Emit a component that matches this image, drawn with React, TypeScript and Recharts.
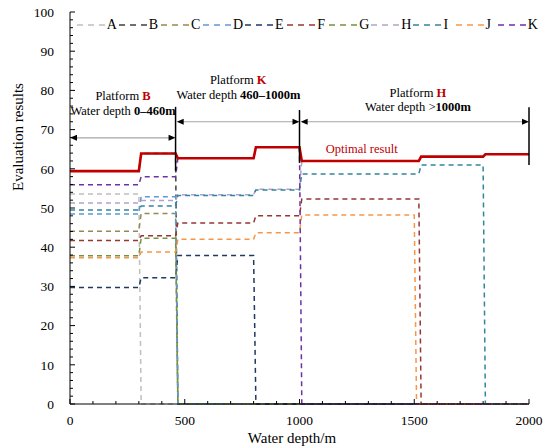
import React from "react";
import { Label, Legend, Line, LineChart, ReferenceDot, ReferenceLine, XAxis, YAxis } from "recharts";

const FONT = "'Liberation Serif', 'Times New Roman', serif";

// water depth breakpoints (m); each step change ramps over 10 m
const depths = [0, 300, 310, 460, 470, 800, 810, 1000, 1010, 1500, 1510, 1520, 1530, 1800, 1810, 2000];

const optimal = [59.4, 59.4, 63.9, 63.9, 62.7, 62.7, 65.5, 65.5, 62.0, 62.0, 62.0, 62.0, 63.1, 63.1, 63.7, 63.7];
const valuesA = [53.6, 53.6, 0, 0, 0, 0, 0, 0, 0, 0, 0, 0, 0, 0, 0, 0];
const valuesB = [59.4, 59.4, 63.9, 63.9, 0, 0, 0, 0, 0, 0, 0, 0, 0, 0, 0, 0];
const valuesC = [44.1, 44.1, 48.6, 48.6, 0, 0, 0, 0, 0, 0, 0, 0, 0, 0, 0, 0];
const valuesD = [48.5, 48.5, 52.9, 52.9, 0, 0, 0, 0, 0, 0, 0, 0, 0, 0, 0, 0];
const valuesE = [29.7, 29.7, 32.2, 32.2, 37.9, 37.9, 0, 0, 0, 0, 0, 0, 0, 0, 0, 0];
const valuesF = [41.7, 41.7, 42.9, 42.9, 46.2, 46.2, 48.0, 48.0, 52.3, 52.3, 52.3, 52.3, 0, 0, 0, 0];
const valuesG = [37.8, 37.8, 42.3, 42.3, 0, 0, 0, 0, 0, 0, 0, 0, 0, 0, 0, 0];
const valuesH = [51.3, 51.3, 51.9, 51.9, 53.4, 53.4, 54.8, 54.8, 62.0, 62.0, 62.0, 62.0, 63.1, 63.1, 63.7, 63.7];
const valuesI = [49.5, 49.5, 50.5, 50.5, 53.2, 53.2, 54.6, 54.6, 58.7, 58.7, 58.7, 58.7, 61.0, 61.0, 0, 0];
const valuesJ = [37.3, 37.3, 38.8, 38.8, 42.0, 42.0, 43.7, 43.7, 48.2, 48.2, 0, 0, 0, 0, 0, 0];
const valuesK = [55.9, 55.9, 58.0, 58.0, 62.7, 62.7, 65.5, 65.5, 0, 0, 0, 0, 0, 0, 0, 0];

const platformNames = ["A", "B", "C", "D", "E", "F", "G", "H", "I", "J", "K"];
const platformValues = [valuesA, valuesB, valuesC, valuesD, valuesE, valuesF, valuesG, valuesH, valuesI, valuesJ, valuesK];
const platformColors = [
  "#bfbfbf", "#404040", "#948a54", "#5b9bd5", "#1f3864", "#953735",
  "#77933c", "#b3a2c7", "#31859c", "#f79646", "#7030a0",
];

const xLabels = [0, 500, 1000, 1500, 2000];
const yLabels = [0, 10, 20, 30, 40, 50, 60, 70, 80, 90, 100];
const xTicks = Array.from({ length: 21 }, (_, i) => i * 100);
const yTicks = Array.from({ length: 51 }, (_, i) => i * 2);

const rows = depths.map((depth, i) => {
  const row: Record<string, number> = { depth, optimal: optimal[i] };
  platformNames.forEach((name, k) => {
    row[name] = platformValues[k][i];
  });
  return row;
});

const YTick = (props: any) => {
  const { x, y, payload } = props;
  const axisX = x + 16;
  const major = yLabels.includes(payload.value);
  return (
    <g>
      <line x1={axisX} x2={axisX + (major ? 5 : 3)} y1={y} y2={y} stroke="#000" />
      {major && (
        <text x={x} y={y} dy="0.35em" textAnchor="end" fontSize={13.5} fontFamily={FONT} fill="#000">
          {payload.value}
        </text>
      )}
    </g>
  );
};

const XTick = (props: any) => {
  const { x, y, payload } = props;
  const major = xLabels.includes(payload.value);
  return (
    <g>
      <line x1={x} x2={x} y1={y} y2={y - (major ? 5 : 3)} stroke="#000" />
      {major && (
        <text x={x} y={y + 21} textAnchor="middle" fontSize={13.5} fontFamily={FONT} fill="#000">
          {payload.value}
        </text>
      )}
    </g>
  );
};

// double headed arrow drawn along a reference segment
const arrowShape = (p: any) => {
  const { x1, y1, x2, y2 } = p;
  const left = Math.min(x1, x2);
  const right = Math.max(x1, x2);
  return (
    <g>
      <line x1={left + 5} y1={y1} x2={right - 5} y2={y2} stroke="#a6a6a6" strokeWidth={1.2} />
      <polygon points={`${left},${y1} ${left + 7},${y1 - 3} ${left + 7},${y1 + 3}`} fill="#000" />
      <polygon points={`${right},${y2} ${right - 7},${y2 - 3} ${right - 7},${y2 + 3}`} fill="#000" />
    </g>
  );
};

const annotation = (plain: string, strong: string, strongColor: string, size = 12.5) =>
  (p: any) => {
    const { x, y } = p.viewBox;
    return (
      <text x={x} y={y} dy="0.35em" textAnchor="middle" fontSize={size} fontFamily={FONT} fill="#000">
        <tspan>{plain}</tspan>
        <tspan fill={strongColor} fontWeight="bold">{strong}</tspan>
      </text>
    );
  };

const renderLegend = () => (
  <div style={{ display: "flex", fontFamily: FONT, fontSize: 14, lineHeight: "16px", color: "#000" }}>
    {platformNames.map((name, i) => (
      <div key={name} style={{ width: 42.1, display: "flex", alignItems: "center" }}>
        <svg width={30} height={16}>
          <line x1={0} y1={8} x2={28} y2={8} stroke={platformColors[i]} strokeWidth={1.5} strokeDasharray="6 5" />
        </svg>
        <span>{name}</span>
      </div>
    ))}
  </div>
);

export default function App() {
  return (
    <div style={{ position: "absolute", left: 0, top: 0, width: 550, height: 448, background: "#fff" }}>
      <LineChart
        width={550}
        height={448}
        data={rows}
        margin={{ top: 12, right: 21, left: 10, bottom: 14 }}
        style={{ fontFamily: FONT }}
      >
        <XAxis
          dataKey="depth"
          type="number"
          domain={[0, 2000]}
          ticks={xTicks}
          interval={0}
          height={30}
          tickSize={0}
          tickMargin={0}
          tickLine={false}
          axisLine={{ stroke: "#000" }}
          tick={<XTick />}
        >
          <Label
            content={() => (
              <text x={292} y={443} textAnchor="middle" fontSize={15} fontFamily={FONT} fill="#000">
                Water depth/m
              </text>
            )}
          />
        </XAxis>
        <YAxis
          type="number"
          domain={[0, 100]}
          ticks={yTicks}
          interval={0}
          width={60}
          tickSize={0}
          tickMargin={16}
          tickLine={false}
          axisLine={{ stroke: "#000" }}
          tick={<YTick />}
        >
          <Label
            content={() => (
              <text
                x={18}
                y={137}
                dy="0.35em"
                textAnchor="middle"
                fontSize={15}
                fontFamily={FONT}
                fill="#000"
                transform="rotate(-90, 18, 137)"
              >
                Evaluation results
              </text>
            )}
          />
        </YAxis>
        <Legend
          layout="horizontal"
          verticalAlign="middle"
          align="center"
          content={renderLegend}
          wrapperStyle={{ top: 17, left: 76.7, width: 470, height: 16 }}
        />

        {platformNames.map((name, i) => (
          <Line
            key={name}
            type="linear"
            dataKey={name}
            stroke={platformColors[i]}
            strokeWidth={1.5}
            strokeDasharray="5 4"
            dot={false}
            isAnimationActive={false}
          />
        ))}
        <Line
          type="linear"
          dataKey="optimal"
          stroke="#c00000"
          strokeWidth={2.6}
          dot={false}
          legendType="none"
          isAnimationActive={false}
        />

        {/* platform boundaries */}
        <ReferenceLine segment={[{ x: 460, y: 59.5 }, { x: 460, y: 75.8 }]} stroke="#000" strokeWidth={1.5} />
        <ReferenceLine segment={[{ x: 1000, y: 61.5 }, { x: 1000, y: 75.0 }]} stroke="#000" strokeWidth={1.5} />
        <ReferenceLine segment={[{ x: 2000, y: 61.0 }, { x: 2000, y: 75.7 }]} stroke="#000" strokeWidth={1.5} />

        {/* depth ranges */}
        <ReferenceLine segment={[{ x: 0, y: 67.9 }, { x: 460, y: 67.9 }]} shape={arrowShape} />
        <ReferenceLine segment={[{ x: 465, y: 72.0 }, { x: 1000, y: 72.0 }]} shape={arrowShape} />
        <ReferenceLine segment={[{ x: 1005, y: 72.0 }, { x: 2000, y: 72.0 }]} shape={arrowShape} />

        <ReferenceDot x={231} y={78.6} r={0} fill="none" stroke="none" label={annotation("Platform ", "B", "#c00000")} />
        <ReferenceDot x={231} y={74.8} r={0} fill="none" stroke="none" label={annotation("Water depth ", "0–460m", "#000")} />
        <ReferenceDot x={733} y={82.7} r={0} fill="none" stroke="none" label={annotation("Platform ", "K", "#c00000")} />
        <ReferenceDot x={734} y={79.0} r={0} fill="none" stroke="none" label={annotation("Water depth ", "460–1000m", "#000")} />
        <ReferenceDot x={1516} y={79.5} r={0} fill="none" stroke="none" label={annotation("Platform ", "H", "#c00000")} />
        <ReferenceDot x={1516} y={75.8} r={0} fill="none" stroke="none" label={annotation("Water depth >", "1000m", "#000")} />
        <ReferenceDot
          x={1271}
          y={65.1}
          r={0}
          fill="none"
          stroke="none"
          label={(p: any) => (
            <text x={p.viewBox.x} y={p.viewBox.y} dy="0.35em" textAnchor="middle" fontSize={12.5} fontFamily={FONT} fill="#c00000">
              Optimal result
            </text>
          )}
        />
      </LineChart>
    </div>
  );
}
